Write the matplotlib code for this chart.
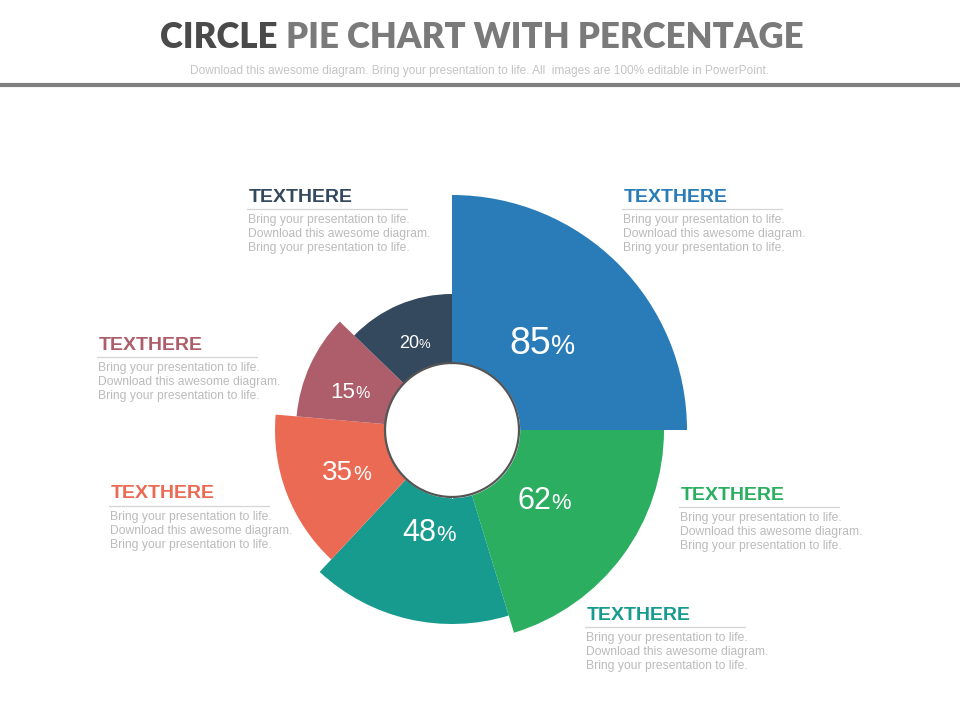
import numpy as np
import matplotlib
matplotlib.use("Agg")
import matplotlib.pyplot as plt

# slices, clockwise from 12 o'clock
pcts = [85, 62, 48, 35, 15, 20]
span_deg = [90, 73, 60, 52, 39, 46]
outer_r = [235, 212, 194, 177, 156, 136]
colors = ["#2A7CB9", "#2BAE60", "#179B8E", "#EB6A54", "#AD5E6A", "#34495E"]
inner_r = 67

heading = "TEXTHERE"
body = [
    "Bring your presentation to life.",
    "Download this awesome diagram.",
    "Bring your presentation to life.",
]
title_dark = "CIRCLE"
title_rest = " PIE CHART WITH PERCENTAGE"
subtitle = ("Download this awesome diagram. Bring your presentation to life. "
            "All  images are 100% editable in PowerPoint.")

# layout (pixels / degrees, clockwise positive)
label_r = [127, 115, 103, 113, 110, 96]
label_dtheta = [0, 0, 0, 0, -3, 0]
label_fs = [27, 22, 22, 20, 16, 13]
block_xy = [(624, 197), (681, 495), (587, 615), (111, 494), (99, 345), (249, 197)]

fig = plt.figure(figsize=(9.6, 7.2), dpi=100)
fig.patch.set_facecolor("white")

# overlay in pixel coords
tx = fig.add_axes([0, 0, 1, 1])
tx.set_xlim(0, 960)
tx.set_ylim(720, 0)
tx.set_axis_off()

# polar chart centred at (452, 430), radius 240 px
cx, cy, R = 452, 430, 240
ax = fig.add_axes([(cx - R) / 960, (720 - cy - R) / 720, 2 * R / 960, 2 * R / 720],
                  projection="polar")
ax.set_theta_offset(np.pi / 2)
ax.set_theta_direction(-1)
ax.set_ylim(0, R)
ax.set_axis_off()

widths = np.deg2rad(span_deg)
starts = np.concatenate([[0], np.cumsum(widths)[:-1]])
mids = starts + widths / 2 + np.deg2rad(label_dtheta)
heights = np.array(outer_r) - inner_r
ax.bar(starts, heights, width=widths, bottom=inner_r, align="edge",
       color=colors, edgecolor="none", linewidth=0)

t = np.linspace(0, 2 * np.pi, 400)
ax.fill_between(t, 0, inner_r, color="white", zorder=3)
ax.plot(t, np.full_like(t, inner_r), color="#555555", lw=1.6, zorder=4)

for m, r, p, fs in zip(mids, label_r, pcts, label_fs):
    fs_pct = fs * 0.72
    w_num = 2 * 0.556 * fs
    w_pct = 0.889 * fs_pct
    d = (w_num - w_pct) / 2
    dy = -0.36 * fs
    ax.annotate(str(p), xy=(m, r), xytext=(d, dy), textcoords="offset points",
                ha="right", va="baseline", fontsize=fs, color="white",
                family="Liberation Sans", zorder=5)
    ax.annotate("%", xy=(m, r), xytext=(d, dy), textcoords="offset points",
                ha="left", va="baseline", fontsize=fs_pct, color="white",
                family="Liberation Sans", zorder=5)

# text blocks
for (x, y), c in zip(block_xy, colors):
    tx.text(x, y, heading, color=c, fontsize=14, fontweight="bold",
            family="Liberation Sans", ha="left", va="center")
    tx.plot([x - 2, x + 158], [y + 12, y + 12], color="#D5D5D5", lw=0.9)
    for i, line in enumerate(body):
        tx.text(x - 1, y + 23 + 14 * i, line, color="#BBBBBB", fontsize=8.7,
                family="Liberation Sans", ha="left", va="center")

# title
t1 = tx.text(160, 37, title_dark, color="#4A4A4A", fontsize=25,
             fontweight="heavy", family="Lato", ha="left", va="center")
tx.annotate(title_rest, xy=(1, 0.5), xycoords=t1, ha="left", va="center",
            color="#7A7A7A", fontsize=25, fontweight="heavy", family="Lato")
tx.text(480, 71, subtitle, color="#C4C4C4", fontsize=8.6,
        family="Liberation Sans", ha="center", va="center")
tx.axhline(85, color="#808080", lw=3)

fig.savefig("out.png", dpi=100, facecolor="white")
